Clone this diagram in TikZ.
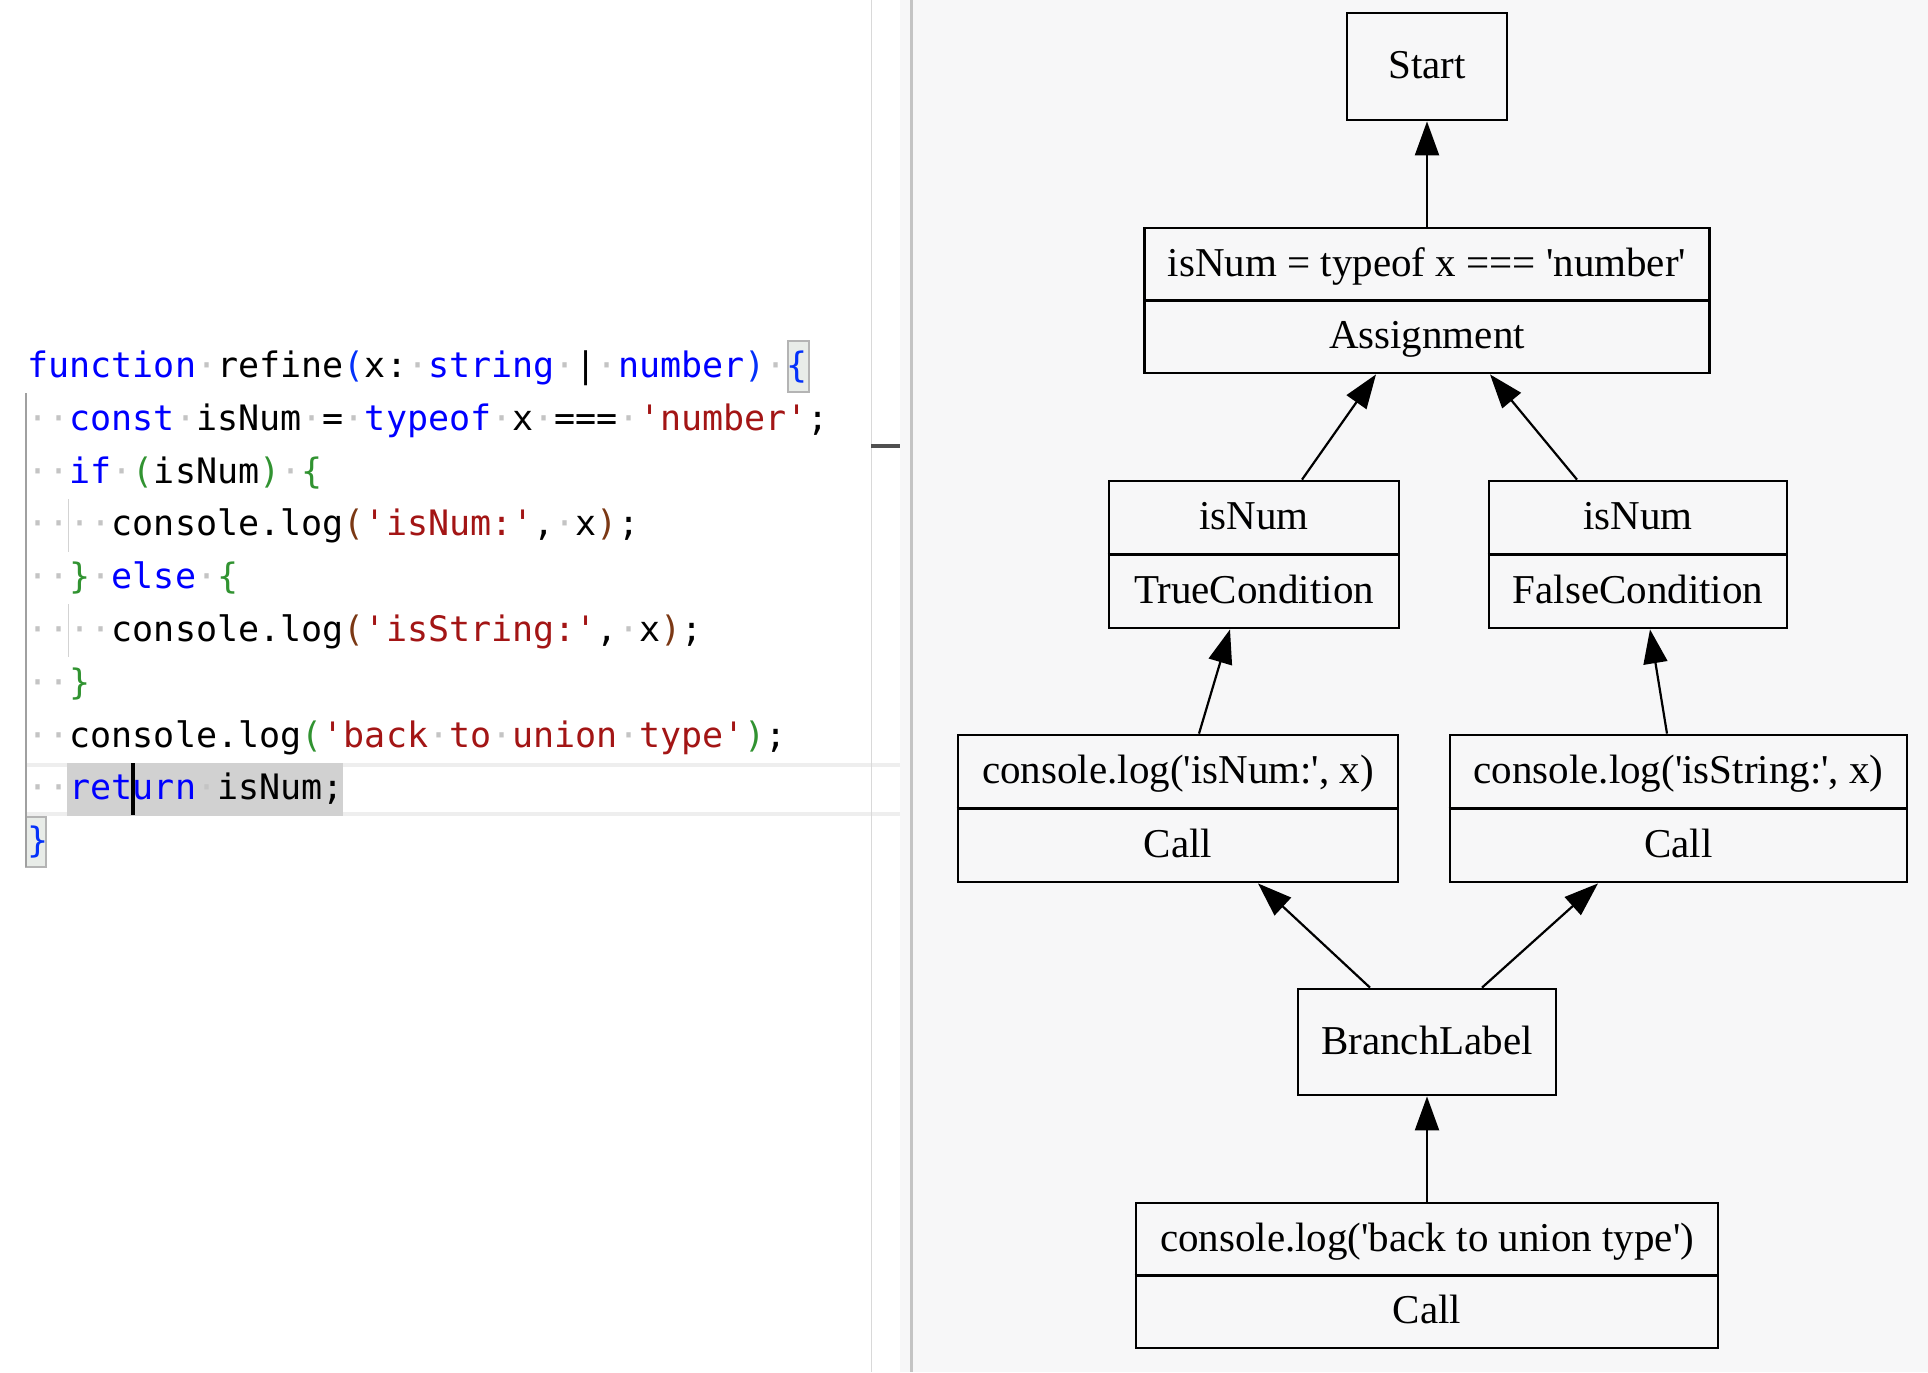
\documentclass[tikz,border=0pt]{standalone}
\usepackage{fontspec}
\usetikzlibrary{arrows.meta,calc}
\newfontfamily\codefont{DejaVu Sans Mono}
\newfontfamily\gfont{Liberation Serif}
\definecolor{kwblue}{HTML}{0000FF}
\definecolor{strred}{HTML}{A31515}
\definecolor{brblue}{HTML}{0431FA}
\definecolor{brgreen}{HTML}{319331}
\definecolor{brbrown}{HTML}{7B3814}
\definecolor{dotgrey}{HTML}{C4C4C4}
\definecolor{panelbg}{HTML}{F7F7F8}
\definecolor{barcol}{HTML}{C4C4C4}
\definecolor{sepcol}{HTML}{D9D9D9}
\definecolor{markcol}{HTML}{505050}
\definecolor{curline}{HTML}{EEEEEE}
\definecolor{selcol}{HTML}{D1D1D1}
\definecolor{matchbg}{HTML}{E8ECE8}
\definecolor{matchbd}{HTML}{B4B4B4}
\definecolor{guideA}{HTML}{A0A0A0}
\definecolor{guideB}{HTML}{D3D3D3}
\newcommand\ckw[1]{\textcolor{kwblue}{#1}}
\newcommand\cstr[1]{\textcolor{strred}{#1}}
\newcommand\wsd{\textcolor{dotgrey}{·}}
\newcommand\cq{\textquotesingle}
\newcommand\brA[1]{\textcolor{brblue}{#1}}
\newcommand\brB[1]{\textcolor{brgreen}{#1}}
\newcommand\brC[1]{\textcolor{brbrown}{#1}}
\tikzset{
  codeline/.style={anchor=base west, inner sep=0pt, text=black, font=\codefont\fontsize{17.52pt}{21pt}\selectfont},
  gbox/.style={draw=black, line width=1.4pt, inner sep=0pt, rectangle},
  glbl/.style={anchor=base, inner sep=0pt, text=black, font=\gfont\fontsize{20.5pt}{24pt}\selectfont},
  gdiv/.style={draw=black, line width=1.4pt},
  gedge/.style={draw=black, line width=1.1pt, -{Triangle[length=17pt,width=12pt]}}
}
\begin{document}
\begin{tikzpicture}[x=0.5pt,y=-0.5pt]
\useasboundingbox (0,0) rectangle (1928,1372);
% backgrounds
\fill[white] (0,0) rectangle (1928,1372);
\fill[panelbg] (900,0) rectangle (1928,1372);
\fill[barcol] (910,0) rectangle (913,1372);
% current line highlight and selection
\fill[curline] (27,763) rectangle (900,767);
\fill[curline] (27,812) rectangle (900,816);
\fill[selcol] (67,763) rectangle (343,816);
\draw[sepcol, line width=0.5pt] (871,0) -- (871,1372);
\fill[markcol] (871,444) rectangle (900,448);
% matching brackets
\draw[fill=matchbg, draw=matchbd, line width=1pt] (788,341) rectangle (809,392);
\draw[fill=matchbg, draw=matchbd, line width=1pt] (26,817) rectangle (46,867);
% indentation guides
\fill[guideA] (25,393) rectangle (27,867);
\fill[guideB] (67.5,499) rectangle (69,552);
\fill[guideB] (67.5,604) rectangle (69,657);
% code
\node[codeline] (c0) at (27,377.5) {\ckw{function}\wsd refine\brA{(}x:\wsd\ckw{string}\wsd|\wsd\ckw{number}\brA{)}\wsd\brA{\{}};
\node[codeline] (c1) at (27,430.3) {\wsd\wsd\ckw{const}\wsd isNum\wsd=\wsd\ckw{typeof}\wsd x\wsd===\wsd\cstr{\cq number\cq};};
\node[codeline] (c2) at (27,483.1) {\wsd\wsd\ckw{if}\wsd\brB{(}isNum\brB{)}\wsd\brB{\{}};
\node[codeline] (c3) at (27,535.9) {\wsd\wsd\wsd\wsd console.log\brC{(}\cstr{\cq isNum:\cq},\wsd x\brC{)};};
\node[codeline] (c4) at (27,588.7) {\wsd\wsd\brB{\}}\wsd\ckw{else}\wsd\brB{\{}};
\node[codeline] (c5) at (27,641.5) {\wsd\wsd\wsd\wsd console.log\brC{(}\cstr{\cq isString:\cq},\wsd x\brC{)};};
\node[codeline] (c6) at (27,694.3) {\wsd\wsd\brB{\}}};
\node[codeline] (c7) at (27,747.1) {\wsd\wsd console.log\brB{(}\cstr{\cq back}\wsd\cstr{to}\wsd\cstr{union}\wsd\cstr{type\cq}\brB{)};};
\node[codeline] (c8) at (27,799.9) {\wsd\wsd\ckw{return}\wsd isNum;};
\node[codeline] (c9) at (27,852.7) {\brA{\}}};
\fill[black] (131,763) rectangle (134.5,815);
% graph boxes
\node[gbox, minimum width=80pt, minimum height=53.5pt] (start) at (1427,66.5) {};
\node[gbox, minimum width=282.5pt, minimum height=72.5pt] (asg) at (1427,300.5) {};
\node[gbox, minimum width=145pt, minimum height=73.5pt] (tc) at (1254,554.5) {};
\node[gbox, minimum width=149pt, minimum height=73.5pt] (fc) at (1638,554.5) {};
\node[gbox, minimum width=220pt, minimum height=73.5pt] (cn) at (1178,808.5) {};
\node[gbox, minimum width=228.5pt, minimum height=73.5pt] (cs) at (1678.5,808.5) {};
\node[gbox, minimum width=129pt, minimum height=53pt] (br) at (1427,1042) {};
\node[gbox, minimum width=291pt, minimum height=72.5pt] (cb) at (1427,1275.5) {};
% dividers
\draw[gdiv] (asg.west) -- (asg.east);
\draw[gdiv] (tc.west) -- (tc.east);
\draw[gdiv] (fc.west) -- (fc.east);
\draw[gdiv] (cn.west) -- (cn.east);
\draw[gdiv] (cs.west) -- (cs.east);
\draw[gdiv] (cb.west) -- (cb.east);
% labels
\node[glbl] (start-l) at ($(start.center)+(0,12)$) {Start};
\node[glbl] (asg-a) at ($(asg.center)+(0,-24.25)$) {isNum = typeof x === \cq number\cq};
\node[glbl] (asg-b) at ($(asg.center)+(0,48.25)$) {Assignment};
\node[glbl] (tc-a) at ($(tc.center)+(0,-24.75)$) {isNum};
\node[glbl] (tc-b) at ($(tc.center)+(0,48.75)$) {TrueCondition};
\node[glbl] (fc-a) at ($(fc.center)+(0,-24.75)$) {isNum};
\node[glbl] (fc-b) at ($(fc.center)+(0,48.75)$) {FalseCondition};
\node[glbl] (cn-a) at ($(cn.center)+(0,-24.75)$) {console.log(\cq isNum:\cq, x)};
\node[glbl] (cn-b) at ($(cn.center)+(0,48.75)$) {Call};
\node[glbl] (cs-a) at ($(cs.center)+(0,-24.75)$) {console.log(\cq isString:\cq, x)};
\node[glbl] (cs-b) at ($(cs.center)+(0,48.75)$) {Call};
\node[glbl] (br-l) at ($(br.center)+(0,12)$) {BranchLabel};
\node[glbl] (cb-a) at ($(cb.center)+(0,-24.25)$) {console.log(\cq back to union type\cq)};
\node[glbl] (cb-b) at ($(cb.center)+(0,48.25)$) {Call};
% edges
\draw[gedge] (asg.north) -- (start.south);
\draw[gedge] ($(tc.north)+(48,0)$) -- ($(asg.south)+(-51,0)$);
\draw[gedge] ($(fc.north)+(-61,0)$) -- ($(asg.south)+(63,0)$);
\draw[gedge] ($(cn.north)+(21,0)$) -- ($(tc.south)+(-24,0)$);
\draw[gedge] ($(cs.north)+(-11.5,0)$) -- ($(fc.south)+(12,0)$);
\draw[gedge] ($(br.north)+(-57,0)$) -- ($(cn.south)+(80,0)$);
\draw[gedge] ($(br.north)+(55,0)$) -- ($(cs.south)+(-80.5,0)$);
\draw[gedge] (cb.north) -- (br.south);
\end{tikzpicture}
\end{document}
